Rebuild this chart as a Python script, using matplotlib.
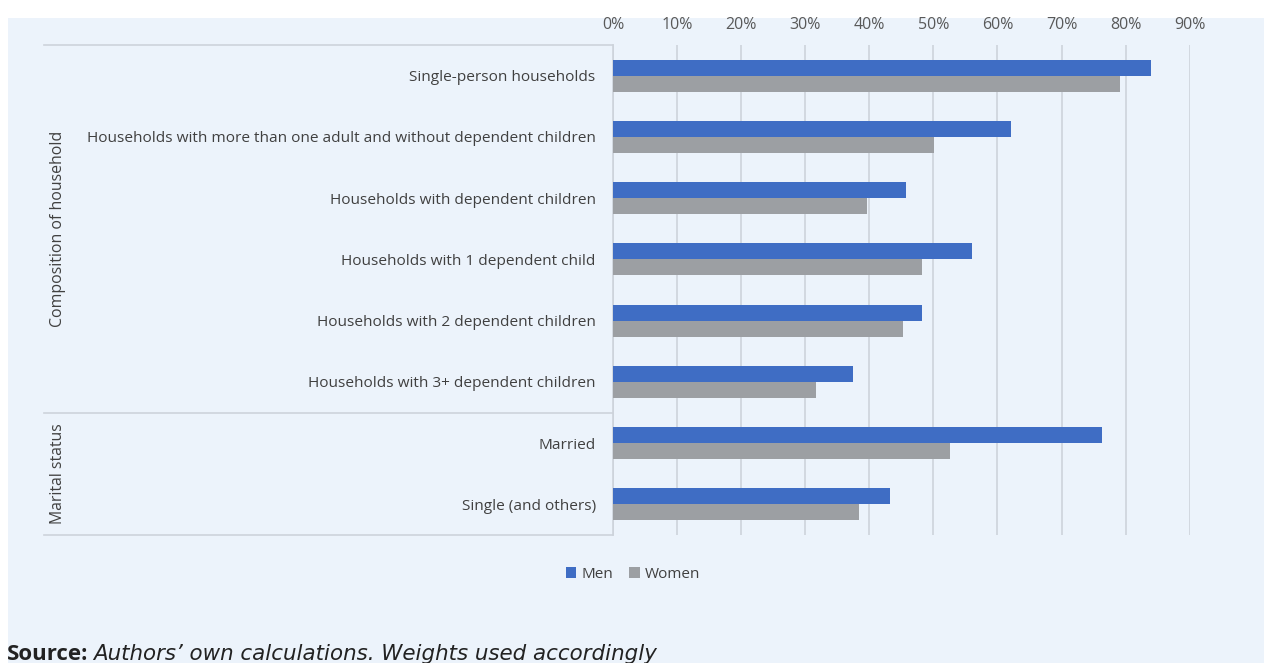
import matplotlib
matplotlib.use("Agg")
import matplotlib.pyplot as plt
import numpy as np

categories = [
    "Single-person households",
    "Households with more than one adult and without dependent children",
    "Households with dependent children",
    "Households with 1 dependent child",
    "Households with 2 dependent children",
    "Households with 3+ dependent children",
    "Married",
    "Single (and others)",
]
men = [0.840, 0.621, 0.458, 0.560, 0.483, 0.375, 0.763, 0.433]
women = [0.791, 0.501, 0.397, 0.483, 0.452, 0.317, 0.526, 0.384]
groups = ["Composition of household", "Marital status"]
group_sizes = [6, 2]
series_names = ["Men", "Women"]
tick_values = [0, 0.1, 0.2, 0.3, 0.4, 0.5, 0.6, 0.7, 0.8, 0.9]

BG = "#ECF3FB"
BLUE = "#3F6DC4"
GRAY = "#9C9FA3"
GRID = "#CDD3DB"
TXT = "#404040"

W, H = 1264, 663
fig = plt.figure(figsize=(W / 100, H / 100), dpi=100)
fig.patch.set_facecolor("white")

# light-blue panel
panel = plt.Rectangle((8 / W, 0), 1 - 8 / W, 1 - 18 / H, transform=fig.transFigure,
                      facecolor=BG, edgecolor="none", zorder=-10)
fig.patches.append(panel)

x0, x1 = 613 / W, 1189.7 / W
ytop, ybot = 1 - 45 / H, 1 - 535 / H
ax = fig.add_axes([x0, ybot, x1 - x0, ytop - ybot])
ax.set_facecolor("none")

n = len(categories)
ypos = np.arange(n)
bh = 0.26
ax.barh(ypos - bh / 2, men, height=bh, color=BLUE, label=series_names[0], zorder=3)
ax.barh(ypos + bh / 2, women, height=bh, color=GRAY, label=series_names[1], zorder=3)

ax.set_ylim(n - 0.5, -0.5)
ax.set_xlim(0, 0.9)
ax.set_xticks(tick_values)
ax.set_xticklabels([f"{int(round(v * 100))}%" for v in tick_values])
ax.xaxis.tick_top()
ax.tick_params(axis="x", length=0, pad=8.5, labelsize=11.5, labelcolor="#595959")
for lab in ax.get_xticklabels():
    lab.set_family("Open Sans")
ax.grid(axis="x", color=GRID, linewidth=1.2, zorder=0)
ax.set_yticks(ypos)
ax.set_yticklabels(categories, family="Open Sans", fontsize=11.1, color=TXT)
ax.tick_params(axis="y", length=0, pad=12.5)
for s in ["top", "right", "bottom"]:
    ax.spines[s].set_visible(False)
ax.spines["left"].set_color(GRID)
ax.spines["left"].set_linewidth(1.2)

# group separators and labels
lx0 = 44 / W
bounds = [45, 412.5, 535]
for yb in bounds:
    yf = 1 - yb / H
    fig.add_artist(plt.Line2D([lx0, x0], [yf, yf], transform=fig.transFigure,
                              color=GRID, linewidth=1.2))
start = 0
for g, size in zip(groups, group_sizes):
    ymid = 1 - ((bounds[0] + (start + size / 2) * (bounds[2] - bounds[0]) / n)) / H
    fig.text(58 / W, ymid, g, rotation=90, ha="center", va="center",
             family="Open Sans", fontsize=11.4, color=TXT)
    start += size

# legend
leg = fig.legend(loc="center", bbox_to_anchor=(633 / W, 1 - 574 / H), ncol=2,
                 frameon=False, handlelength=0.7, handleheight=0.7, handletextpad=0.35,
                 columnspacing=1.0, prop={"family": "Open Sans", "size": 11})
for t in leg.get_texts():
    t.set_color(TXT)

# source
fig.text(7 / W, 1 - 654 / H, "Source:", family="Open Sans", fontweight="bold",
         fontsize=16, color="#222222", va="center", ha="left")
fig.text(93 / W, 1 - 654 / H, "Authors’ own calculations. Weights used accordingly",
         family="DejaVu Sans", style="italic", fontsize=15.4, color="#222222",
         va="center", ha="left")

fig.savefig("out.png", dpi=100, facecolor=fig.get_facecolor())
